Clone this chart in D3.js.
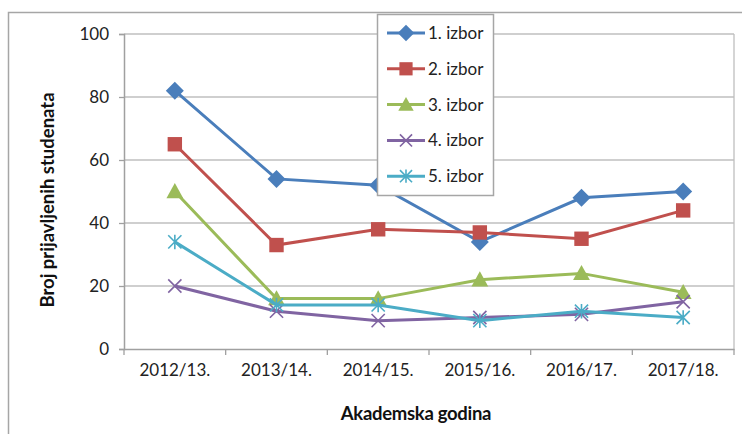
<!DOCTYPE html>
<html><head><meta charset="utf-8">
<script src="https://cdn.jsdelivr.net/npm/d3@7"></script>
<style>html,body{margin:0;padding:0;background:#fff;}svg{display:block;}</style>
</head><body>
<svg id="c" width="742" height="434"></svg>
<script>
const categories = ["2012/13.","2013/14.","2014/15.","2015/16.","2016/17.","2017/18."];
const seriesNames = ["1. izbor","2. izbor","3. izbor","4. izbor","5. izbor"];
const izbor1 = [82,54,52,34,48,50];
const izbor2 = [65,33,38,37,35,44];
const izbor3 = [50,16,16,22,24,18];
const izbor4 = [20,12,9,10,11,15];
const izbor5 = [34,14,14,9,12,10];
const yTicks = [0,20,40,60,80,100];
const colors = ["#4A7EBB","#C0504D","#9BBB59","#8064A2","#4BACC6"];
const markers = ["diamond","square","triangle","x","star"];
const allSeries = [izbor1,izbor2,izbor3,izbor4,izbor5];

const svg = d3.select("#c");
const font = "Lato, Calibri, 'Liberation Sans', sans-serif";
const L=124, R=734, T=34, B=349;

svg.append("rect").attr("x",8.5).attr("y",12.5).attr("width",760).attr("height",440)
  .attr("fill","none").attr("stroke","#a6a6a6").attr("stroke-width",1.5);

const x = d3.scaleBand().domain(categories).range([L,R]);
const y = d3.scaleLinear().domain([0,100]).range([B,T]);

svg.append("g").selectAll("line").data(yTicks.filter(d=>d>0)).join("line")
  .attr("x1",L).attr("x2",R).attr("y1",d=>y(d)).attr("y2",d=>y(d))
  .attr("stroke","#bfbfbf").attr("stroke-width",1.3);
svg.append("line").attr("x1",R).attr("x2",R).attr("y1",T).attr("y2",B).attr("stroke","#bfbfbf").attr("stroke-width",1.3);

const yAx = svg.append("g").attr("transform",`translate(${L},0)`)
  .call(d3.axisLeft(y).tickValues(yTicks).tickSize(5).tickPadding(10));
yAx.select(".domain").attr("stroke","#a0a0a0").attr("stroke-width",1.5);
yAx.selectAll(".tick line").attr("stroke","#a0a0a0").attr("stroke-width",1.3);
yAx.selectAll("text").attr("font-family",font).attr("font-size",17).attr("fill","#222");

const xAx = svg.append("g").attr("transform",`translate(0,${B})`)
  .call(d3.axisBottom(x).tickSize(0).tickPadding(15));
xAx.select(".domain").attr("stroke","#a0a0a0").attr("stroke-width",1.5);
xAx.selectAll("text").attr("font-family",font).attr("font-size",17).attr("fill","#222");
const bounds = categories.map(c=>x(c)).concat([R]);
svg.append("g").selectAll("line").data(bounds).join("line")
  .attr("x1",d=>d).attr("x2",d=>d).attr("y1",B).attr("y2",B+6)
  .attr("stroke","#a0a0a0").attr("stroke-width",1.3);

svg.append("text").attr("transform","translate(54,200) rotate(-90)")
  .attr("text-anchor","middle").attr("font-family",font).attr("font-weight","bold")
  .attr("font-size",18.5).attr("fill","#111").text("Broj prijavljenih studenata");
svg.append("text").attr("x",416).attr("y",420)
  .attr("text-anchor","middle").attr("font-family",font).attr("font-weight","bold")
  .attr("font-size",18.5).attr("letter-spacing",-0.3).attr("fill","#111").text("Akademska godina");

function drawMarker(g, type, cx, cy, color, s){
  if(type==="diamond"){
    const r=s*0.75;
    g.append("path").attr("d",`M${cx},${cy-r}L${cx+r},${cy}L${cx},${cy+r}L${cx-r},${cy}Z`).attr("fill",color);
  } else if(type==="square"){
    const r=s*0.6;
    g.append("rect").attr("x",cx-r).attr("y",cy-r).attr("width",2*r).attr("height",2*r).attr("fill",color);
  } else if(type==="triangle"){
    const r=s*0.7;
    g.append("path").attr("d",`M${cx},${cy-r}L${cx+r},${cy+r*0.8}L${cx-r},${cy+r*0.8}Z`).attr("fill",color);
  } else if(type==="x"){
    const r=s*0.55;
    g.append("path").attr("d",`M${cx-r},${cy-r}L${cx+r},${cy+r}M${cx-r},${cy+r}L${cx+r},${cy-r}`)
      .attr("stroke",color).attr("stroke-width",1.6).attr("fill","none");
  } else if(type==="star"){
    const r=s*0.55;
    g.append("path").attr("d",`M${cx-r},${cy-r}L${cx+r},${cy+r}M${cx-r},${cy+r}L${cx+r},${cy-r}M${cx},${cy-r*1.1}L${cx},${cy+r*1.1}`)
      .attr("stroke",color).attr("stroke-width",1.6).attr("fill","none");
  }
}

const line = d3.line().x((d,i)=>x(categories[i])+x.bandwidth()/2).y(d=>y(d));
allSeries.forEach((vals,si)=>{
  const g = svg.append("g");
  g.append("path").datum(vals).attr("d",line).attr("fill","none")
    .attr("stroke",colors[si]).attr("stroke-width",3);
  vals.forEach((v,i)=>drawMarker(g, markers[si], x(categories[i])+x.bandwidth()/2, y(v), colors[si], 12));
});

const lg = svg.append("g");
lg.append("rect").attr("x",377.5).attr("y",14.5).attr("width",116).attr("height",181)
  .attr("fill","#fff").attr("stroke","#a6a6a6").attr("stroke-width",1.5);
seriesNames.forEach((n,i)=>{
  const yy = 33 + i*35.8;
  lg.append("line").attr("x1",387).attr("x2",425).attr("y1",yy).attr("y2",yy)
    .attr("stroke",colors[i]).attr("stroke-width",3);
  drawMarker(lg, markers[i], 406, yy, colors[i], 11);
  lg.append("text").attr("x",428).attr("y",yy+6).attr("font-family",font)
    .attr("font-size",17).attr("fill","#222").text(n);
});
</script>
</body></html>
